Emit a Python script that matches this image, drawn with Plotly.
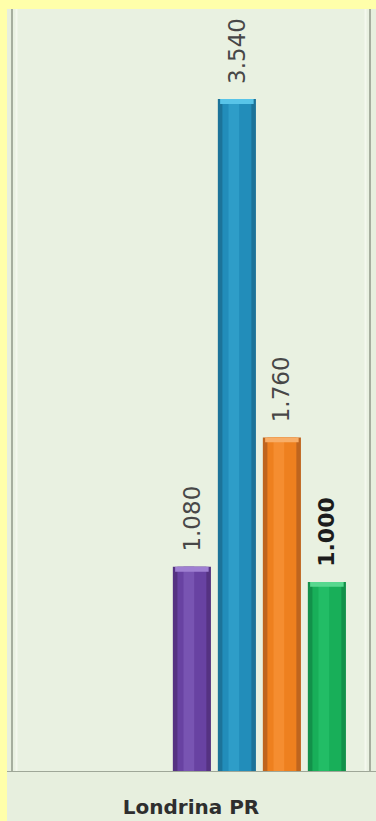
import plotly.graph_objects as go

# Data
category = ["Londrina PR"]
series_values = [1.080, 3.540, 1.760, 1.000]
value_labels = ["1.080", "3.540", "1.760", "1.000"]
bold_label = [False, False, False, True]

# Bar styling: edge, body, highlight, cap colours per series
edge_colors = ["#553282", "#1C7399", "#BF651E", "#12914A"]
body_colors = ["#6842A2", "#228DBA", "#EE801F", "#18AF59"]
high_colors = ["#7854B2", "#2E9DC8", "#F58D30", "#22BD66"]
cap_colors = ["#9F80D2", "#58C4E8", "#F8AE68", "#58D88F"]

W, H = 376, 821
ML, MR, MT, MB = 13, 7, 9, 49
PW, PH = W - ML - MR, H - MT - MB
PX_PER_UNIT = 190.1
Y_MAX = PH / PX_PER_UNIT

BAR_W = 0.107
PITCH = 0.1264
FIRST_OFF = -0.051
CAP = 0.026

fig = go.Figure()

for i, v in enumerate(series_values):
    off = FIRST_OFF + i * PITCH
    # outer body (darker rim)
    fig.add_trace(go.Bar(x=category, y=[v], offset=off, width=BAR_W,
                         marker=dict(color=edge_colors[i], line=dict(width=0)),
                         hoverinfo="skip", showlegend=False))
    # main body
    fig.add_trace(go.Bar(x=category, y=[v], offset=off + BAR_W * 0.12, width=BAR_W * 0.76,
                         marker=dict(color=body_colors[i], line=dict(width=0)),
                         hoverinfo="skip", showlegend=False))
    # highlight stripe
    fig.add_trace(go.Bar(x=category, y=[v], offset=off + BAR_W * 0.28, width=BAR_W * 0.28,
                         marker=dict(color=high_colors[i], line=dict(width=0)),
                         hoverinfo="skip", showlegend=False))
    # lighter top cap
    fig.add_trace(go.Bar(x=category, y=[CAP], base=[v - CAP], offset=off + BAR_W * 0.06,
                         width=BAR_W * 0.88,
                         marker=dict(color=cap_colors[i], line=dict(width=0)),
                         hoverinfo="skip", showlegend=False))

annotations = []
for i, (v, lab) in enumerate(zip(series_values, value_labels)):
    xc = FIRST_OFF + i * PITCH + BAR_W / 2
    annotations.append(dict(
        x=xc, y=v, xref="x", yref="y", text=f"<b>{lab}</b>" if bold_label[i] else lab,
        showarrow=False, textangle=-90, xanchor="center", yanchor="bottom", yshift=13,
        font=dict(family="DejaVu Sans", size=22 if bold_label[i] else 23,
                  color="#1c1c1c" if bold_label[i] else "#474747"),
    ))

shapes = [
    # yellow frame strips
    dict(type="rect", xref="paper", yref="paper", x0=-ML / PW - 0.01, x1=1 + MR / PW + 0.01,
         y0=1, y1=1 + MT / PH + 0.01, fillcolor="#FFFFAA", line=dict(width=0), layer="above"),
    dict(type="rect", xref="paper", yref="paper", x0=-ML / PW - 0.01, x1=-6 / PW,
         y0=-MB / PH - 0.01, y1=1 + MT / PH + 0.01, fillcolor="#FFFFAA", line=dict(width=0),
         layer="above"),
    # baseline across the full width
    dict(type="line", xref="paper", yref="y", x0=-6 / PW, x1=1 + MR / PW + 0.01, y0=0, y1=0,
         line=dict(color="#9FA798", width=2), layer="above"),
    # soft inner rims next to the side borders
    dict(type="line", xref="paper", yref="paper", x0=3.5 / PW, x1=3.5 / PW, y0=0, y1=1,
         line=dict(color="#F4F8EE", width=2), layer="below"),
    dict(type="line", xref="paper", yref="paper", x0=1 - 3.5 / PW, x1=1 - 3.5 / PW, y0=0, y1=1,
         line=dict(color="#F4F8EE", width=2), layer="below"),
]

fig.update_layout(
    width=W, height=H,
    margin=dict(l=ML, r=MR, t=MT, b=MB, pad=0, autoexpand=False),
    paper_bgcolor="#E7EFDE",
    plot_bgcolor="#E9F1E1",
    barmode="overlay",
    showlegend=False,
    annotations=annotations,
    shapes=shapes,
    xaxis=dict(type="category", range=[-0.5, 0.5], showgrid=False, zeroline=False,
               showline=False, ticks="outside", ticklen=17, tickcolor="rgba(0,0,0,0)",
               tickfont=dict(family="DejaVu Sans", size=20, color="#2E2E2E", weight="bold"),
               automargin=False, fixedrange=True),
    yaxis=dict(range=[0, Y_MAX], showgrid=False, zeroline=False, showticklabels=False,
               showline=True, mirror=True, linecolor="#A6AE9E", linewidth=2, ticks="",
               automargin=False, fixedrange=True),
)

fig.write_html("out.html", config={"displayModeBar": False})
